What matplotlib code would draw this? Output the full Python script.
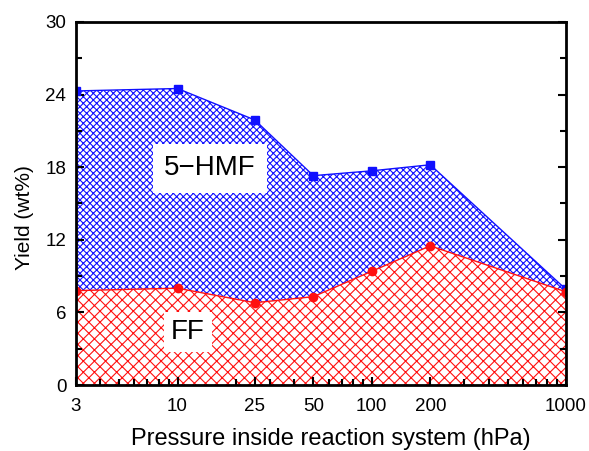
import numpy as np
import matplotlib
matplotlib.use("Agg")
import matplotlib.pyplot as plt
from matplotlib.ticker import FixedLocator, NullFormatter, LogLocator, MultipleLocator

plt.rcParams['font.family'] = ['Liberation Sans', 'DejaVu Sans']
plt.rcParams['hatch.linewidth'] = 0.8

# data
pressure = [3, 10, 25, 50, 100, 200, 1000]
hmf_top = [24.3, 24.5, 21.9, 17.3, 17.7, 18.2, 7.9]
ff_yield = [7.8, 8.0, 6.8, 7.3, 9.4, 11.5, 7.7]
x_ticks = [3, 10, 25, 50, 100, 200, 1000]
y_ticks = [0, 6, 12, 18, 24, 30]

fig = plt.figure(figsize=(5.89, 4.51), dpi=100)
ax = fig.add_axes([0.129, 0.1463, 0.832, 0.805])

# blue band between FF and 5-HMF curves
ax.fill_between(pressure, ff_yield, hmf_top, facecolor='white',
                edgecolor='#1010ff', hatch='xxxxx', linewidth=0)
# red band below FF curve
ax.fill_between(pressure, 0, ff_yield, facecolor='white',
                edgecolor='#ff1010', hatch='xxx', linewidth=0)

ax.plot(pressure, hmf_top, color='#1010ff', lw=1, marker='s', ms=5.5)
ax.plot(pressure, ff_yield, color='#ff1010', lw=1, marker='o', ms=6)

ax.set_xscale('log')
ax.set_xlim(3, 1000)
ax.set_ylim(0, 30)
ax.xaxis.set_major_locator(FixedLocator(x_ticks))
ax.set_xticklabels([str(v) for v in x_ticks])
ax.xaxis.set_minor_locator(LogLocator(base=10, subs=np.arange(2, 10)))
ax.xaxis.set_minor_formatter(NullFormatter())
ax.set_yticks(y_ticks)
ax.yaxis.set_minor_locator(MultipleLocator(3))

ax.tick_params(which='both', direction='in', labelsize=13.5, width=1.5,
               right=True, top=False, pad=7)
ax.tick_params(axis='x', which='major', pad=9)
ax.tick_params(which='major', length=6)
ax.tick_params(which='minor', length=4)
for s in ax.spines.values():
    s.set_linewidth(2)

ax.text(14.7, 17.9, '5\u2212HMF', fontsize=20, ha='center', va='center',
        bbox=dict(facecolor='white', edgecolor='none', pad=8))
ax.text(11.3, 4.4, 'FF', fontsize=20, ha='center', va='center',
        bbox=dict(facecolor='white', edgecolor='none', pad=5))

ax.set_xlabel('Pressure inside reaction system (hPa)', fontsize=17)
ax.xaxis.set_label_coords(0.52, -0.118)
ax.set_ylabel('Yield (wt%)', fontsize=15)
ax.yaxis.set_label_coords(-0.085, 0.46)

fig.savefig('out.png', dpi=100)
